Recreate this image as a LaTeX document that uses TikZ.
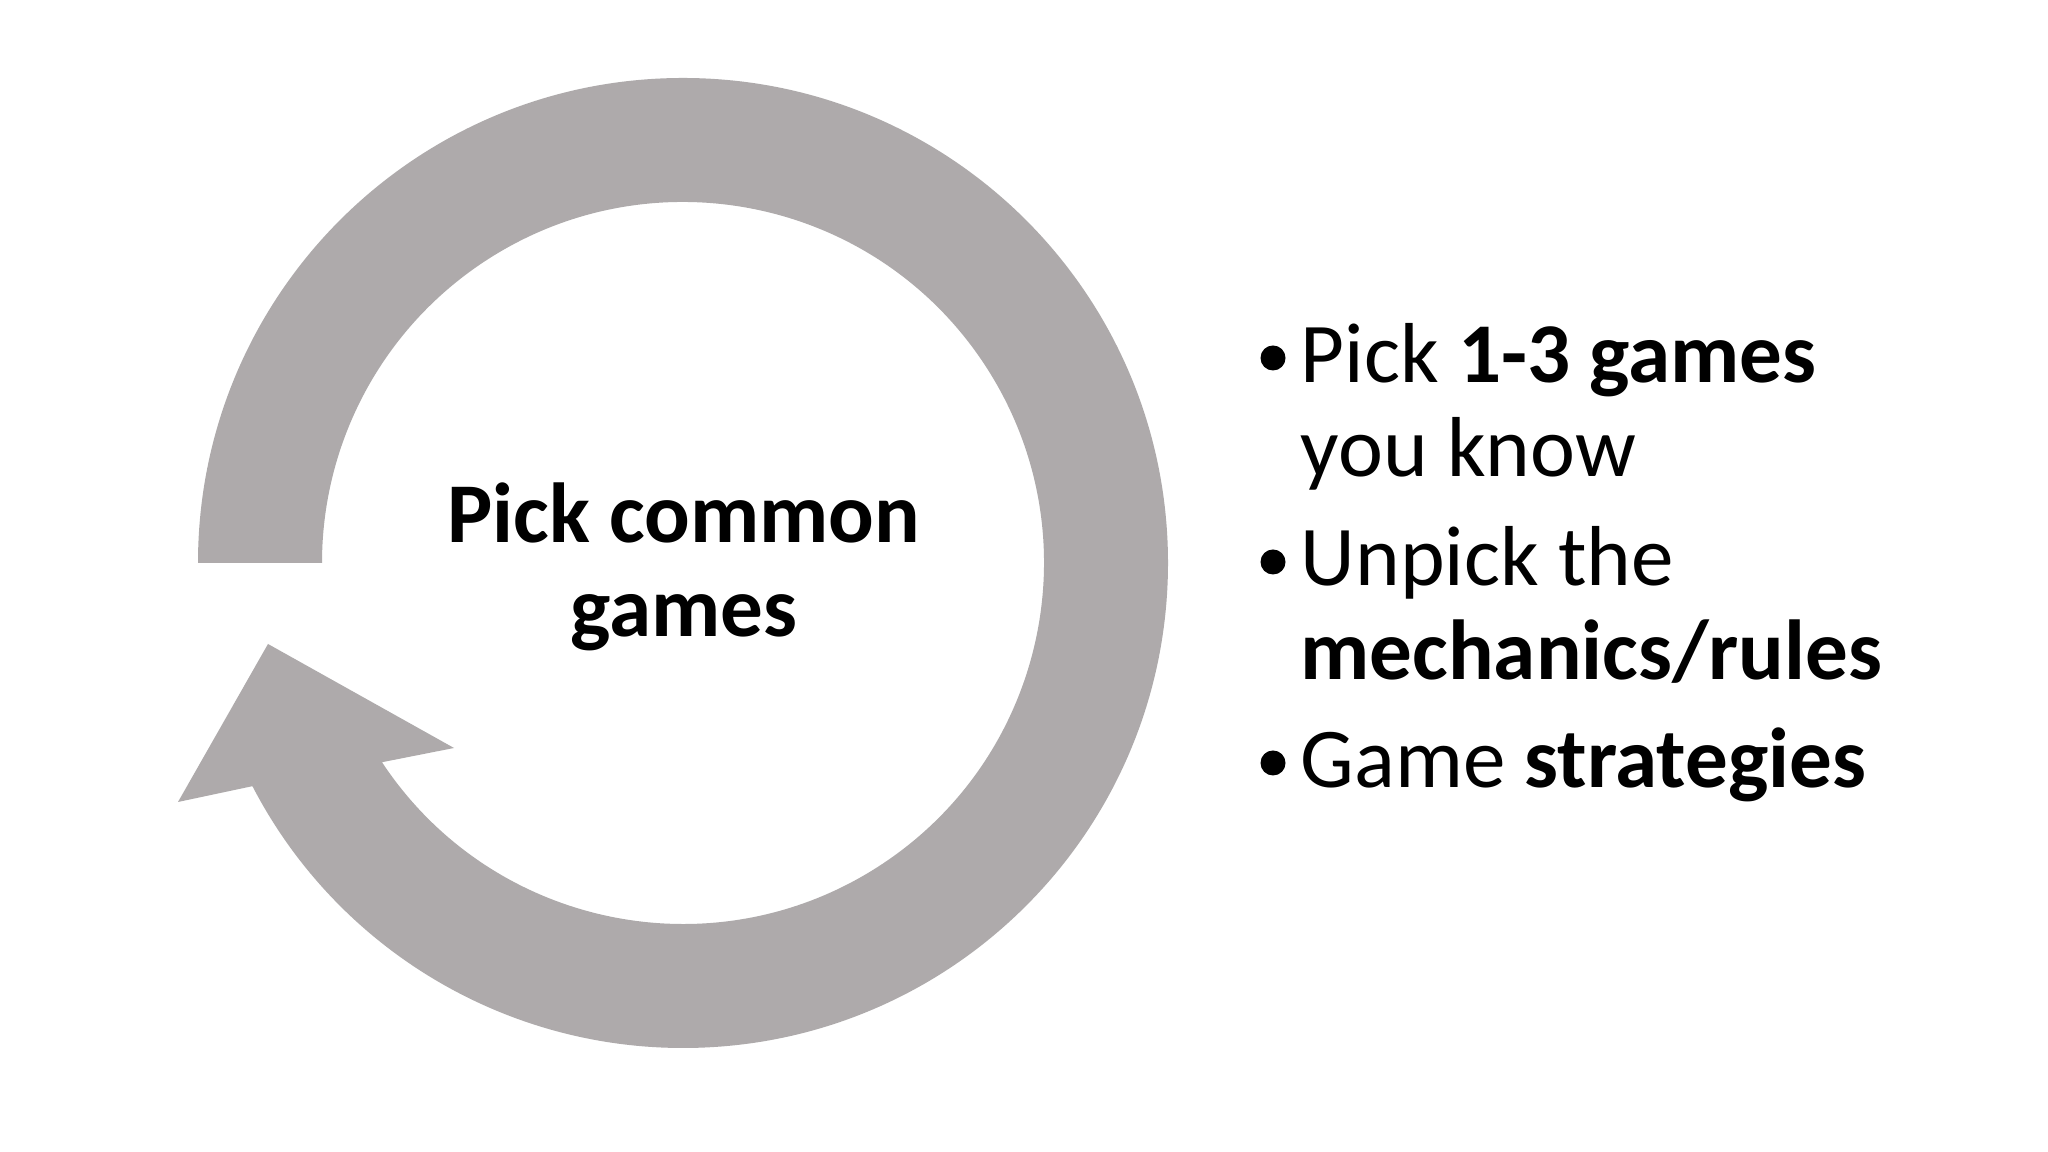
\documentclass[tikz,border=0pt]{standalone}
\usepackage{fontspec}
\setmainfont{Carlito}
\usetikzlibrary{calc}

\definecolor{arrowgray}{RGB}{174,170,171}

\begin{document}
\begin{tikzpicture}[x=0.01cm,y=0.01cm,
  bigtext/.style={font=\fontsize{24.2}{26.8}\selectfont, inner sep=0pt},
  dot/.style={circle, fill=black, inner sep=0pt, minimum size=0.25cm}]
  % ===== Canvas =====
  \fill[white] (0,0) rectangle (2048,1152);
  \useasboundingbox (0,0) rectangle (2048,1152);

  % ===== Circular arrow =====
  \coordinate (c) at (683,589);
  \fill[arrowgray] ($(c)+(180:485)$) arc[start angle=180, end angle=-152.6, radius=485]
    -- (178,350) -- (268,508) -- (454,404)
    -- ($(c)+(-146.5:361)$) arc[start angle=-146.5, end angle=180, radius=361] -- cycle;

  % --- Centre label (base = last line) ---
  \node[bigtext, anchor=base, align=center] (title) at (684,515)
    {\textbf{Pick common}\\\textbf{games}};

  % --- Bullet list ---
  \node[dot] (dot1) at (1273,794) {};
  \node[dot] (dot2) at (1273,590) {};
  \node[dot] (dot3) at (1273,389) {};
  \node[bigtext, anchor=base west, align=left] (item1) at (1300,675)
    {Pick \textbf{1-3 games}\\you know};
  \node[bigtext, anchor=base west, align=left] (item2) at (1300,472)
    {Unpick the\\\textbf{mechanics/rules}};
  \node[bigtext, anchor=base west, align=left] (item3) at (1300,364)
    {Game \textbf{strategies}};
\end{tikzpicture}
\end{document}
